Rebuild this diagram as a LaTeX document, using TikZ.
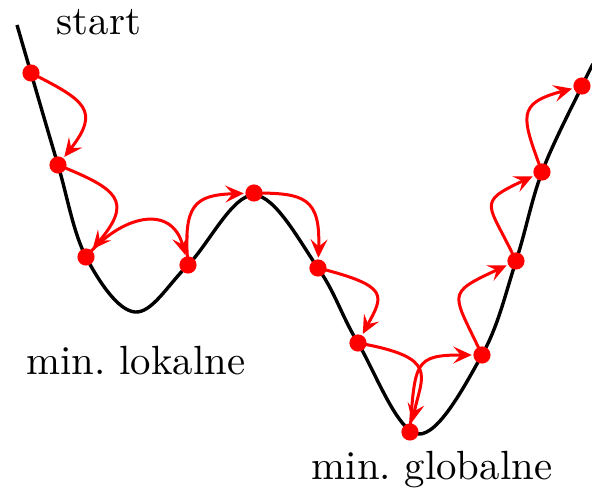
\documentclass[tikz,border=0pt]{standalone}
\usetikzlibrary{arrows.meta}
\begin{document}
\begin{tikzpicture}[x=0.25pt,y=-0.25pt,
  pt/.style={circle,fill=red,inner sep=0pt,minimum size=4.3pt},
  hop/.style={draw=red,line width=0.75pt,-{Stealth[length=4.6pt,width=4.2pt,inset=1.8pt]},shorten >=0.2pt},
  curve/.style={line width=0.85pt,black},
  lbl/.style={font=\fontsize{10.2}{12}\selectfont,inner sep=0pt}]
\useasboundingbox (0,0) rectangle (592,493);
\draw[curve] plot[smooth,tension=0.6] coordinates {(17,25) (31,73) (58,165) (86,257) (135,312) (188,265) (254,195) (318,268) (358,343) (418,434) (482,355) (516,261) (542,172) (582,86) (593,64)};
\node[pt] (p1) at (31,73) {};
\node[pt] (p2) at (58,165) {};
\node[pt] (p3) at (86,257) {};
\node[pt] (p4) at (188,265) {};
\node[pt] (p5) at (254,193) {};
\node[pt] (p6) at (318,268) {};
\node[pt] (p7) at (358,343) {};
\node[pt] (p8) at (410,432) {};
\node[pt] (p9) at (482,355) {};
\node[pt] (p10) at (516,261) {};
\node[pt] (p11) at (542,172) {};
\node[pt] (p12) at (582,86) {};
\draw[hop] (p1.center) to[out=-27,in=52,looseness=1.7] (p2);
\draw[hop] (p2.center) to[out=-22,in=50,looseness=1.8] (p3);
\draw[hop] (p3.center) to[out=50,in=105,looseness=1.4] (p4);
\draw[hop] (p4.center) to[out=95,in=182,out looseness=1.7,in looseness=1.4] (p5);
\draw[hop] (p5.center) to[out=0,in=88,out looseness=1.4,in looseness=1.7] (p6);
\draw[hop] (p6.center) to[out=-14,in=62,out looseness=2.4,in looseness=1.4] (p7);
\draw[hop] (p7.center) to[out=-10,in=78,out looseness=2.2,in looseness=1.3] (p8);
\draw[hop] (p8.center) to[out=86,in=180,out looseness=1.8,in looseness=1.5] (p9);
\draw[hop] (p9.center) to[out=115,in=205,looseness=1.9] (p10);
\draw[hop] (p10.center) to[out=115,in=205,looseness=1.9] (p11);
\draw[hop] (p11.center) to[out=110,in=195,looseness=1.7] (p12);
\node[lbl] (s) at (99,22) {start};
\node[lbl] (l) at (136,361) {min.\ lokalne};
\node[lbl] (g) at (432,470) {min.\ globalne};
\end{tikzpicture}
\end{document}
